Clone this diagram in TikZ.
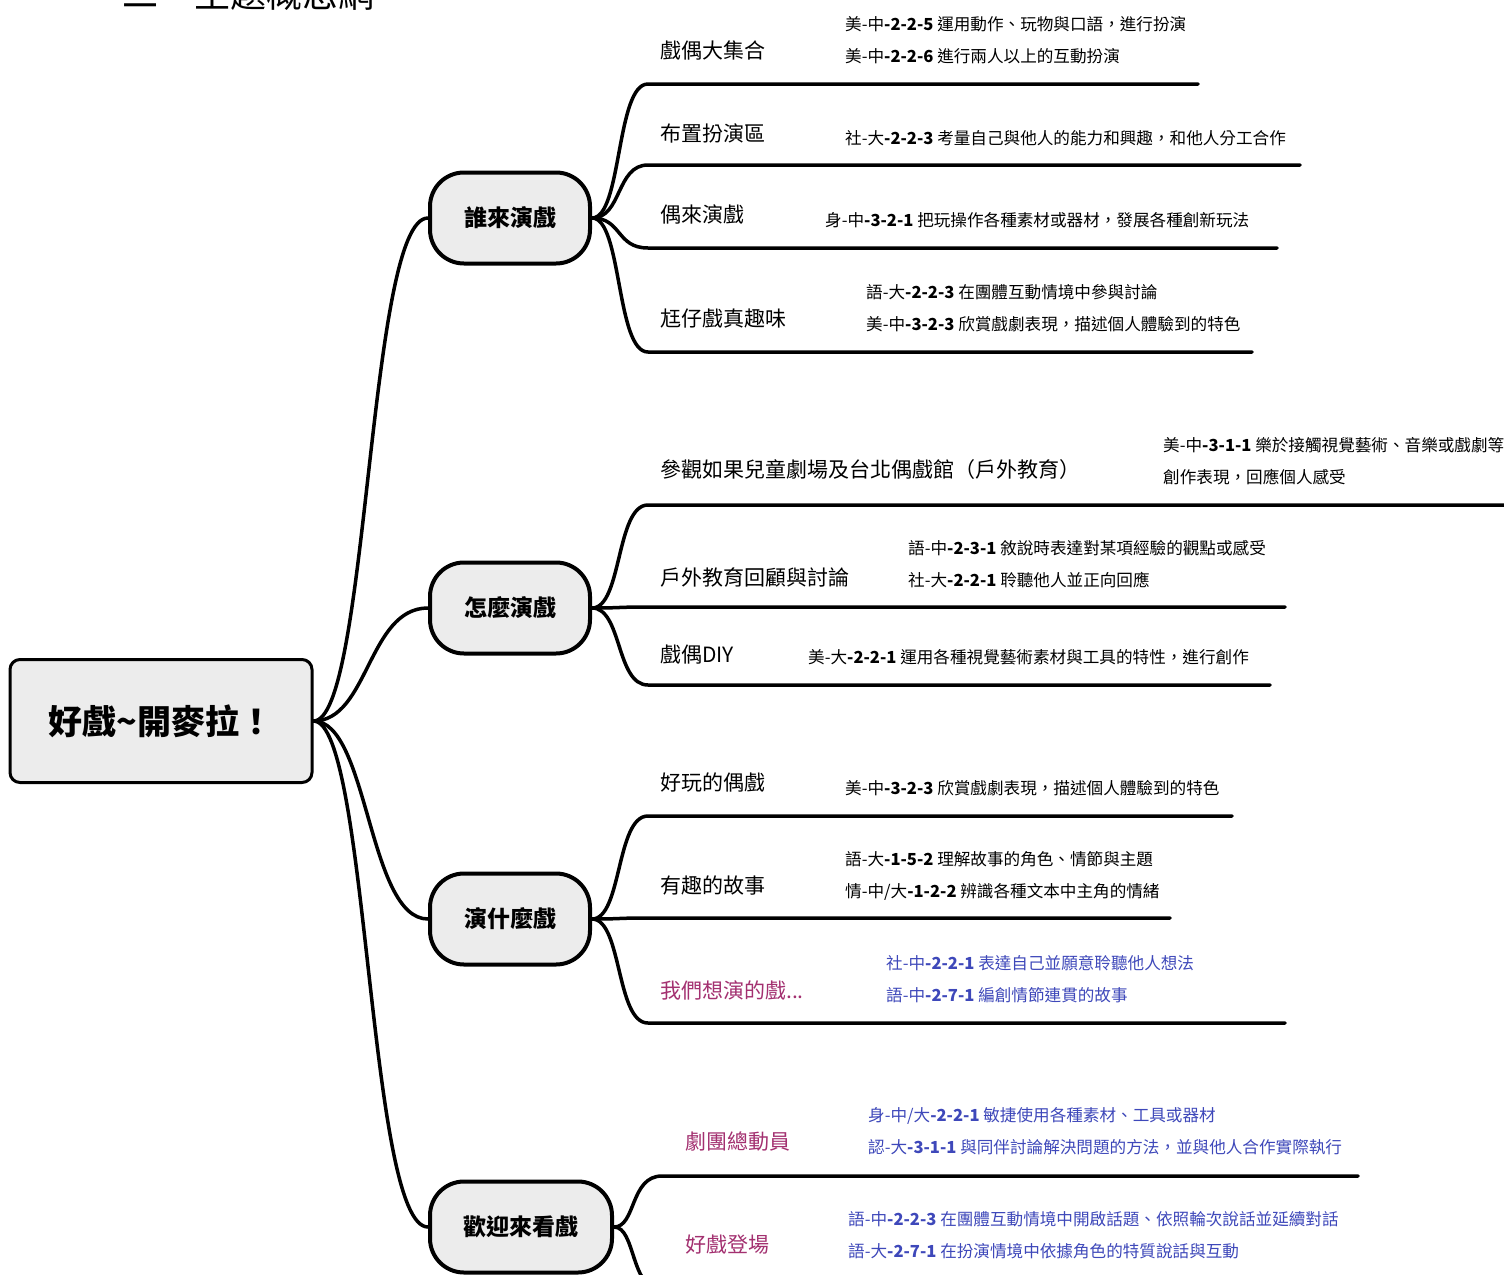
\documentclass[tikz,border=0pt]{standalone}
\usepackage{fontspec}
\setmainfont{Noto Sans CJK TC}
\definecolor{boxgray}{RGB}{236,236,236}
\definecolor{mag}{RGB}{163,48,112}
\definecolor{blu}{RGB}{62,72,186}
\newcommand{\kc}[2]{#1\textbf{#2}}
\tikzset{
  rootbox/.style={draw, line width=3pt, rounded corners=10pt, fill=boxgray,
    minimum width=302pt, minimum height=123pt, inner sep=0pt,
    font=\fontsize{34}{40}\selectfont\bfseries},
  branch/.style={draw, line width=4pt, rounded corners=34pt, fill=boxgray,
    minimum width=160pt, minimum height=91pt, inner sep=0pt,
    font=\fontsize{23}{28}\selectfont\bfseries},
  conn/.style={line width=3.5pt, line cap=round, line join=round},
  lab/.style={anchor=west, inner sep=0pt, font=\fontsize{21}{26}\selectfont},
  desc/.style={anchor=west, inner sep=0pt, align=left, font=\fontsize{16.6}{31.5}\selectfont},
}
\begin{document}
\begin{tikzpicture}[x=1pt, y=-1pt]
\useasboundingbox (0,0) rectangle (1504,1274);
\fill[white] (0,0) rectangle (1504,1274);

% title (cut at top)
\node[anchor=west, inner sep=0pt, font=\fontsize{36}{40}\selectfont] (title) at (122,-6) {二、主題概念網};

% root and branches
\node[rootbox] (root) at (161,721) {好戲\textasciitilde 開麥拉！};
\node[branch] (b1) at (510,218) {誰來演戲};
\node[branch] (b2) at (510,608) {怎麼演戲};
\node[branch] (b3) at (510,919) {演什麼戲};
\node[branch, minimum width=182pt] (b4) at (521,1227) {歡迎來看戲};

% root connectors
\foreach \b in {b1,b2,b3,b4}
  \draw[conn] (root.east) .. controls +(55,0) and +(-60,0) .. (\b.west);

% underline coordinates
\coordinate (s11) at (648,84);   \coordinate (e11) at (1198,84);
\coordinate (s12) at (648,165);  \coordinate (e12) at (1300,165);
\coordinate (s13) at (648,248);  \coordinate (e13) at (1277,248);
\coordinate (s14) at (648,352);  \coordinate (e14) at (1252,352);
\coordinate (s21) at (648,505);  \coordinate (e21) at (1510,505);
\coordinate (s22) at (648,607);  \coordinate (e22) at (1285,607);
\coordinate (s23) at (648,685);  \coordinate (e23) at (1270,685);
\coordinate (s31) at (648,816);  \coordinate (e31) at (1232,816);
\coordinate (s32) at (648,918);  \coordinate (e32) at (1170,918);
\coordinate (s33) at (648,1023); \coordinate (e33) at (1285,1023);
\coordinate (s41) at (662,1176); \coordinate (e41) at (1358,1176);
\coordinate (s42) at (662,1290); \coordinate (e42) at (1358,1290);

% sub connectors
\foreach \s/\e in {s11/e11,s12/e12,s13/e13,s14/e14}
  \draw[conn] (b1.east) .. controls +(30,0) and +(-32,0) .. (\s) -- (\e);
\foreach \s/\e in {s21/e21,s22/e22,s23/e23}
  \draw[conn] (b2.east) .. controls +(30,0) and +(-32,0) .. (\s) -- (\e);
\foreach \s/\e in {s31/e31,s32/e32,s33/e33}
  \draw[conn] (b3.east) .. controls +(30,0) and +(-32,0) .. (\s) -- (\e);
\foreach \s/\e in {s41/e41,s42/e42}
  \draw[conn] (b4.east) .. controls +(22,0) and +(-32,0) .. (\s) -- (\e);

% ---- 誰來演戲
\node[lab] (l11) at (660,50) {戲偶大集合};
\node[desc] (d11) at (845,40) {\kc{美-中}{-2-2-5} 運用動作、玩物與口語，進行扮演\\\kc{美-中}{-2-2-6} 進行兩人以上的互動扮演};
\node[lab] (l12) at (660,133) {布置扮演區};
\node[desc] (d12) at (845,138) {\kc{社-大}{-2-2-3} 考量自己與他人的能力和興趣，和他人分工合作};
\node[lab] (l13) at (660,214) {偶來演戲};
\node[desc] (d13) at (825,220) {\kc{身-中}{-3-2-1} 把玩操作各種素材或器材，發展各種創新玩法};
\node[lab] (l14) at (660,318) {尪仔戲真趣味};
\node[desc] (d14) at (866,308) {\kc{語-大}{-2-2-3} 在團體互動情境中參與討論\\\kc{美-中}{-3-2-3} 欣賞戲劇表現，描述個人體驗到的特色};

% ---- 怎麼演戲
\node[lab] (l21) at (660,470) {參觀如果兒童劇場及台北偶戲館（戶外教育）};
\node[desc] (d21) at (1163,461) {\kc{美-中}{-3-1-1} 樂於接觸視覺藝術、音樂或戲劇等\\創作表現，回應個人感受};
\node[lab] (l22) at (660,577) {戶外教育回顧與討論};
\node[desc] (d22) at (908,564) {\kc{語-中}{-2-3-1} 敘說時表達對某項經驗的觀點或感受\\\kc{社-大}{-2-2-1} 聆聽他人並正向回應};
\node[lab] (l23) at (660,655) {戲偶DIY};
\node[desc] (d23) at (808,657) {\kc{美-大}{-2-2-1} 運用各種視覺藝術素材與工具的特性，進行創作};

% ---- 演什麼戲
\node[lab] (l31) at (660,782) {好玩的偶戲};
\node[desc] (d31) at (845,788) {\kc{美-中}{-3-2-3} 欣賞戲劇表現，描述個人體驗到的特色};
\node[lab] (l32) at (660,886) {有趣的故事};
\node[desc] (d32) at (845,876) {\kc{語-大}{-1-5-2} 理解故事的角色、情節與主題\\\kc{情-中/大}{-1-2-2} 辨識各種文本中主角的情緒};
\node[lab, text=mag] (l33) at (660,990) {我們想演的戲...};
\node[desc, text=blu] (d33) at (886,979) {\kc{社-中}{-2-2-1} 表達自己並願意聆聽他人想法\\\kc{語-中}{-2-7-1} 編創情節連貫的故事};

% ---- 歡迎來看戲
\node[lab, text=mag] (l41) at (685,1141) {劇團總動員};
\node[desc, text=blu] (d41) at (868,1131) {\kc{身-中/大}{-2-2-1} 敏捷使用各種素材、工具或器材\\\kc{認-大}{-3-1-1} 與同伴討論解決問題的方法，並與他人合作實際執行};
\node[lab, text=mag] (l42) at (685,1245) {好戲登場};
\node[desc, text=blu] (d42) at (848,1235) {\kc{語-中}{-2-2-3} 在團體互動情境中開啟話題、依照輪次說話並延續對話\\\kc{語-大}{-2-7-1} 在扮演情境中依據角色的特質說話與互動};
\end{tikzpicture}
\end{document}
